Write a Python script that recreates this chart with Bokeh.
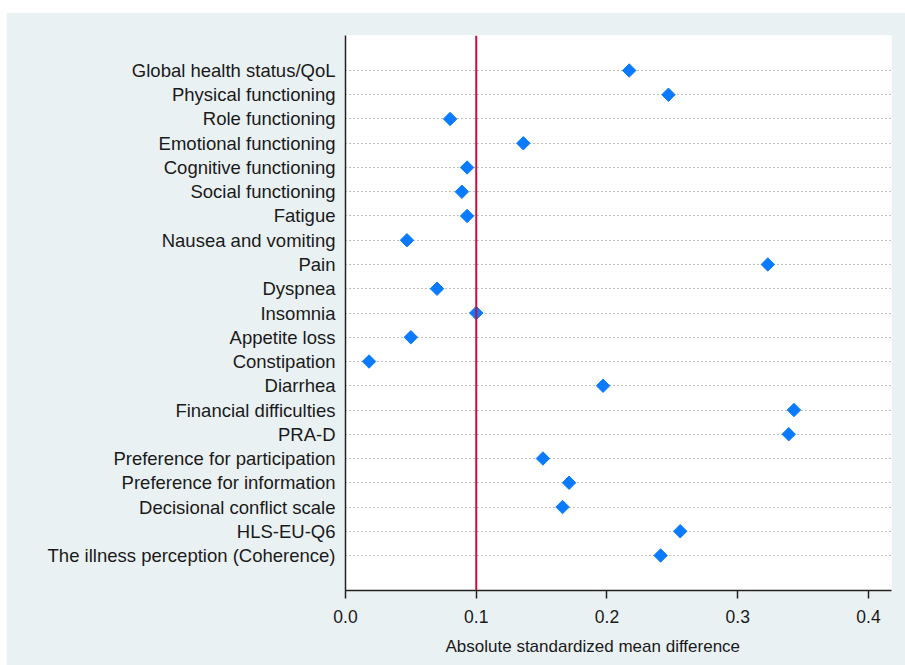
import math
from bokeh.plotting import figure
from bokeh.models import Range1d, FixedTicker, Span, ColumnDataSource, Spacer, Title
from bokeh.layouts import column, row
from bokeh.embed import file_html
from bokeh.resources import INLINE

labels = [
    "Global health status/QoL",
    "Physical functioning",
    "Role functioning",
    "Emotional functioning",
    "Cognitive functioning",
    "Social functioning",
    "Fatigue",
    "Nausea and vomiting",
    "Pain",
    "Dyspnea",
    "Insomnia",
    "Appetite loss",
    "Constipation",
    "Diarrhea",
    "Financial difficulties",
    "PRA-D",
    "Preference for participation",
    "Preference for information",
    "Decisional conflict scale",
    "HLS-EU-Q6",
    "The illness perception (Coherence)",
]
smd = [0.217, 0.247, 0.080, 0.136, 0.093, 0.089, 0.093, 0.047, 0.323, 0.070,
       0.100, 0.050, 0.018, 0.197, 0.343, 0.339, 0.151, 0.171, 0.166, 0.256, 0.241]
x_ticks = [0.0, 0.1, 0.2, 0.3, 0.4]
x_tick_labels = ["0.0", "0.1", "0.2", "0.3", "0.4"]
threshold = 0.1
x_title = "Absolute standardized mean difference"

rows = list(range(len(labels)))
pad = 1.443
src = ColumnDataSource(dict(x=smd, y=rows))

BG = "#EAF1F3"
FONT = "Liberation Sans"

p = figure(width=899, height=653, output_backend="svg", toolbar_location=None,
           x_range=Range1d(0, 0.4176), y_range=Range1d(len(labels) - 1 + pad, -pad),
           min_border_left=339, min_border_top=23, min_border_right=14, min_border_bottom=75)
p.border_fill_color = BG
p.background_fill_color = "white"
p.outline_line_color = None

# grid
p.xgrid.grid_line_color = None
p.ygrid.ticker = FixedTicker(ticks=rows)
p.ygrid.grid_line_color = "#808080"
p.ygrid.grid_line_dash = "1 3"
p.ygrid.grid_line_width = 1

# y axis
p.yaxis.ticker = FixedTicker(ticks=rows)
p.yaxis.major_label_overrides = {i: l for i, l in zip(rows, labels)}
p.yaxis.major_tick_line_color = None
p.yaxis.minor_tick_line_color = None
p.yaxis.major_tick_out = 0
p.yaxis.major_label_standoff = 10
p.yaxis.major_label_text_font = FONT
p.yaxis.major_label_text_font_size = "18.5px"
p.yaxis.major_label_text_color = "#1a1a1a"
p.yaxis.axis_line_color = "#222222"
p.yaxis.axis_line_width = 1.5

# x axis
p.xaxis.ticker = FixedTicker(ticks=x_ticks)
p.xaxis.major_label_overrides = {t: l for t, l in zip(x_ticks, x_tick_labels)}
p.xaxis.minor_tick_line_color = None
p.xaxis.major_tick_out = 8
p.xaxis.major_tick_in = 0
p.xaxis.major_tick_line_color = "#222222"
p.xaxis.major_tick_line_width = 1.5
p.xaxis.axis_line_color = "#222222"
p.xaxis.axis_line_width = 1.5
p.xaxis.major_label_standoff = 11
p.xaxis.major_label_text_font = FONT
p.xaxis.major_label_text_font_size = "17.5px"
p.xaxis.major_label_text_color = "#1a1a1a"

title = Title(text=x_title, align="left", offset=100, standoff=18,
              text_font=FONT, text_font_size="17px", text_font_style="normal",
              text_color="#1a1a1a")
p.add_layout(title, "below")

p.add_layout(Span(location=threshold, dimension="height", line_color="#C8103C", line_width=2))

p.scatter("x", "y", source=src, marker="square", angle=math.pi / 4, size=9.5,
          fill_color="#0A7BFF", line_color="#0A7BFF")

layout = column(Spacer(height=12, width=905), row(Spacer(width=6, height=653), p))

open("out.html", "w").write(file_html(layout, INLINE))
